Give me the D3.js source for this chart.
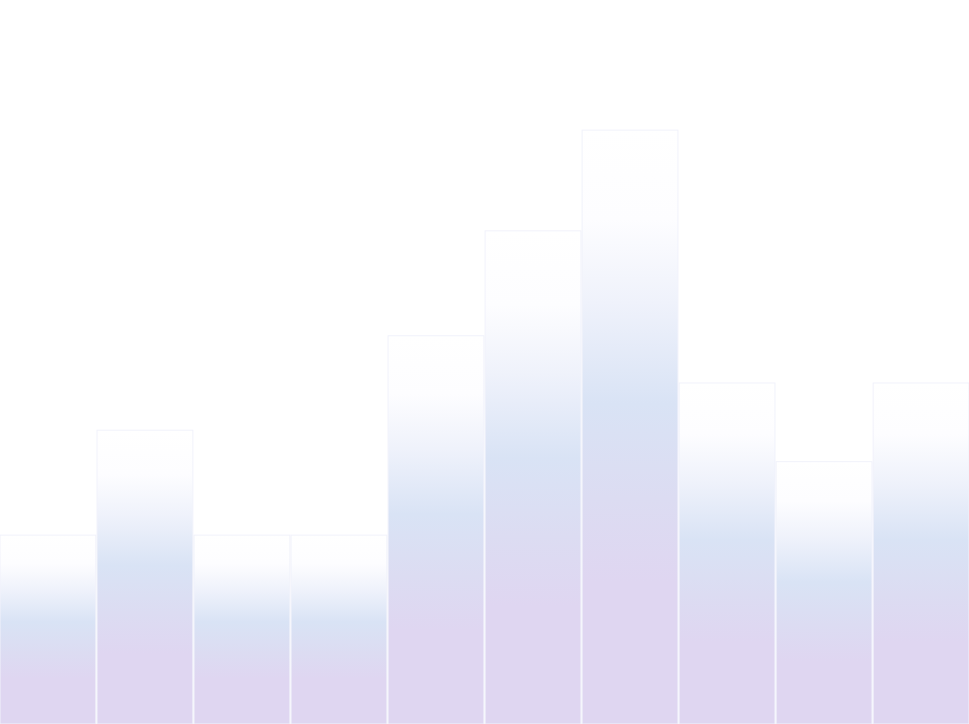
<!DOCTYPE html>
<html>
<head>
<meta charset="utf-8">
<script src="https://cdn.jsdelivr.net/npm/d3@7"></script>
<style>
  html, body { margin: 0; padding: 0; background: #fff; overflow: hidden; }
</style>
</head>
<body>
<div id="chart"></div>
<script>
var categories = ["1", "2", "3", "4", "5", "6", "7", "8", "9", "10"]
var values = [18, 28, 18, 18, 37, 47, 56.6, 32.5, 25, 32.5]
var yMax = 69

var width = 969
var height = 724

var svg = d3.select("#chart")
    .append("svg")
    .attr("width", width)
    .attr("height", height)

// soft vertical gradient: white at top, pale blue middle, lavender bottom
var grad = svg.append("defs")
    .append("linearGradient")
    .attr("id", "barGrad")
    .attr("x1", 0).attr("y1", 0)
    .attr("x2", 0).attr("y2", 1)

var stops = [
    {o: "0%", c: "#ffffff"},
    {o: "15%", c: "#fdfdff"},
    {o: "29%", c: "#eff2fb"},
    {o: "46%", c: "#d9e3f5"},
    {o: "62%", c: "#dcdcf2"},
    {o: "76%", c: "#dfd6f1"},
    {o: "100%", c: "#dfd6f1"}
]
grad.selectAll("stop")
    .data(stops)
    .enter()
    .append("stop")
    .attr("offset", d => d.o)
    .attr("stop-color", d => d.c)

var xScale = d3.scaleBand()
    .domain(categories)
    .range([0, width])
    .paddingInner(0.012)
    .paddingOuter(0)

var yScale = d3.scaleLinear()
    .domain([0, yMax])
    .range([height, 0])

svg.selectAll(".bar")
    .data(values)
    .enter()
    .append("rect")
    .attr("class", "bar")
    .attr("x", (d, i) => xScale(categories[i]))
    .attr("y", d => yScale(d))
    .attr("width", xScale.bandwidth())
    .attr("height", d => yScale(0) - yScale(d))
    .attr("fill", "url(#barGrad)")
    .attr("stroke", "#f1f2fb")
    .attr("stroke-width", 1)
</script>
</body>
</html>
